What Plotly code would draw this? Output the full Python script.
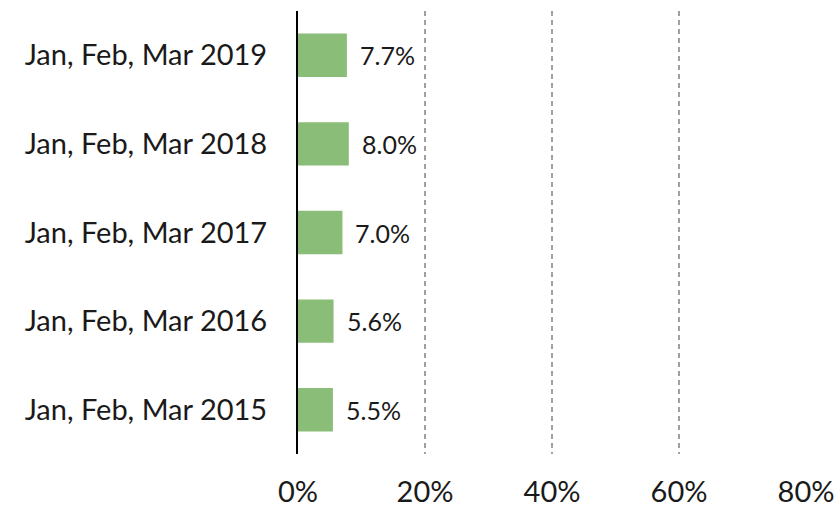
import plotly.graph_objects as go

periods = ["Jan, Feb, Mar 2015", "Jan, Feb, Mar 2016", "Jan, Feb, Mar 2017",
           "Jan, Feb, Mar 2018", "Jan, Feb, Mar 2019"]
values = [5.5, 5.6, 7.0, 8.0, 7.7]
labels = ["5.5%", "5.6%", "7.0%", "8.0%", "7.7%"]
x_ticks = [0, 20, 40, 60, 80]
x_ticktext = ["0%", "20%", "40%", "60%", "80%"]

FONT = "Lato, sans-serif"
INK = "#1a1a1a"

fig = go.Figure(go.Bar(
    x=values, y=periods, orientation="h",
    marker=dict(color="#8abd77", line=dict(width=0)),
    width=0.49, hoverinfo="skip"))

# value labels to the right of each bar
for v, p, t in zip(values, periods, labels):
    fig.add_annotation(x=v, y=p, text=t, showarrow=False, xanchor="left",
                       xshift=11, font=dict(size=25, color=INK, family=FONT))

fig.update_layout(
    width=840, height=508,
    margin=dict(l=298, r=34, t=11, b=54, autoexpand=False),
    plot_bgcolor="white", paper_bgcolor="white",
    showlegend=False,
    font=dict(family=FONT, size=29, color=INK),
    xaxis=dict(range=[0, 80], tickvals=x_ticks, ticktext=x_ticktext,
               tickfont=dict(size=29),
               showgrid=True, gridcolor="#a0a0a0", gridwidth=1.5,
               griddash="5px,4px", zeroline=False, showline=False,
               ticks="", ticklabelstandoff=18, automargin=False),
    yaxis=dict(categoryorder="array", categoryarray=periods,
               range=[-0.5, 4.5], showgrid=False, zeroline=False,
               showline=True, linecolor="black", linewidth=2,
               ticks="", ticklabelstandoff=23, automargin=False),
)

# drop the default 8px body margin so the figure fills the window exactly
fig.write_html("out.html", config={"displayModeBar": False},
               post_script="document.body.style.margin='0';")
